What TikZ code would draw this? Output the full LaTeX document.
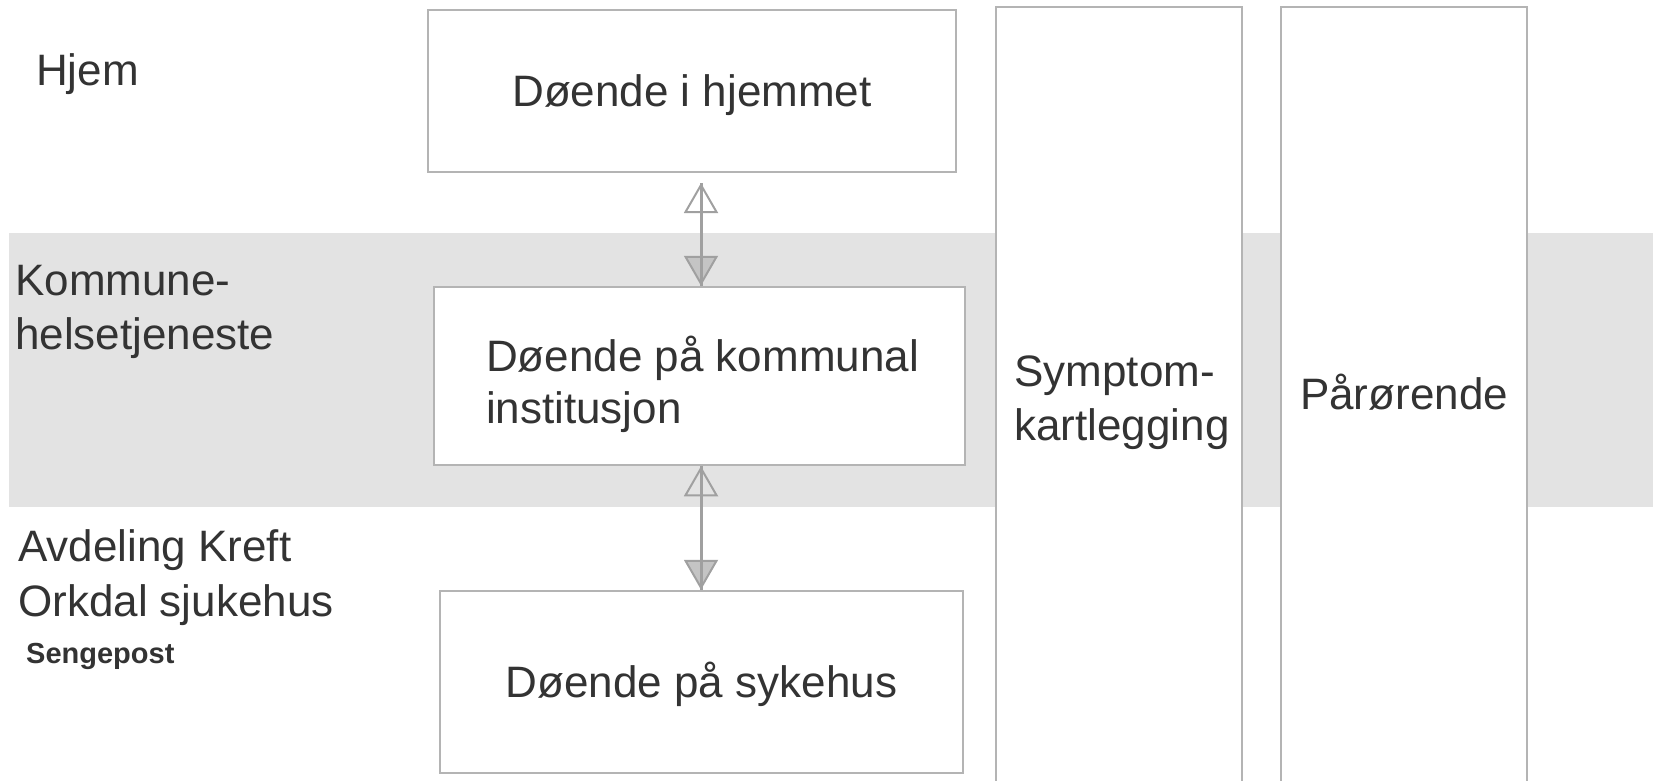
\documentclass[tikz,border=0pt]{standalone}
\usepackage{fontspec}
\setmainfont{Liberation Sans}
\usetikzlibrary{arrows.meta}
\definecolor{bandgray}{HTML}{E3E3E3}
\definecolor{edgegray}{HTML}{B4B4B4}
\definecolor{txtgray}{HTML}{333333}
\definecolor{arrgray}{HTML}{A0A0A0}
\definecolor{headfill}{HTML}{C4C4C4}
\begin{document}
\begin{tikzpicture}[x=1pt,y=-1pt,
  box/.style={draw=edgegray, line width=2.5pt, fill=white, inner sep=0pt},
  boxtext/.style={inner sep=0pt, text=txtgray, font=\fontsize{44}{52}\selectfont, align=left},
  lbl/.style={anchor=base west, inner sep=0pt, text=txtgray, font=\fontsize{44}{53}\selectfont},
  conn/.style={draw=arrgray, line width=3pt},
  heads/.style={draw=arrgray, line width=3pt, {Triangle[open, length=30pt, width=34pt, line width=2pt]}-{Triangle[fill=headfill, length=30pt, width=34pt, line width=2pt]}}
]
\useasboundingbox (0,0) rectangle (1653,780);
\fill[bandgray] (9,233) rectangle (1653,507);

\node[box, minimum width=528pt, minimum height=162pt] (home) at (692,91) {};
\node[box, minimum width=531pt, minimum height=178pt] (mun) at (699.5,376) {};
\node[box, minimum width=523pt, minimum height=182pt] (hosp) at (701.5,682) {};
\node[box, minimum width=246pt, minimum height=780pt] (sym) at (1119,397) {};
\node[box, minimum width=246pt, minimum height=780pt] (par) at (1404,397) {};

\node[boxtext] (home-t) at ([yshift=-4pt]home.center) {Døende i hjemmet};
\node[boxtext] (mun-t) at ([xshift=3pt,yshift=-8.5pt]mun.center) {Døende på kommunal\\institusjon};
\node[boxtext] (hosp-t) at ([yshift=-2pt]hosp.center) {Døende på sykehus};
\node[boxtext, font=\fontsize{44}{54}\selectfont] (sym-t) at ([xshift=3pt,yshift=-6pt]sym.center) {Symptom-\\kartlegging};
\node[boxtext] (par-t) at ([yshift=5pt]par.center) {Pårørende};

\node[lbl] (hjem) at (36,85) {Hjem};
\node[lbl] (kom1) at (15,295) {Kommune-};
\node[lbl] (kom2) at (15,349) {helsetjeneste};
\node[lbl] (avd1) at (18,561) {Avdeling Kreft};
\node[lbl] (avd2) at (18,616) {Orkdal sjukehus};
\node[lbl, font=\bfseries\fontsize{29}{35}\selectfont] (seng) at (26,663) {Sengepost};

\coordinate (ax) at (701,183);
\draw[heads] (ax) -- (ax |- mun.north);
\draw[conn] (ax) -- (ax |- mun.north);
\draw[heads] (ax |- mun.south) -- (ax |- hosp.north);
\draw[conn] (ax |- mun.south) -- (ax |- hosp.north);
\end{tikzpicture}
\end{document}
